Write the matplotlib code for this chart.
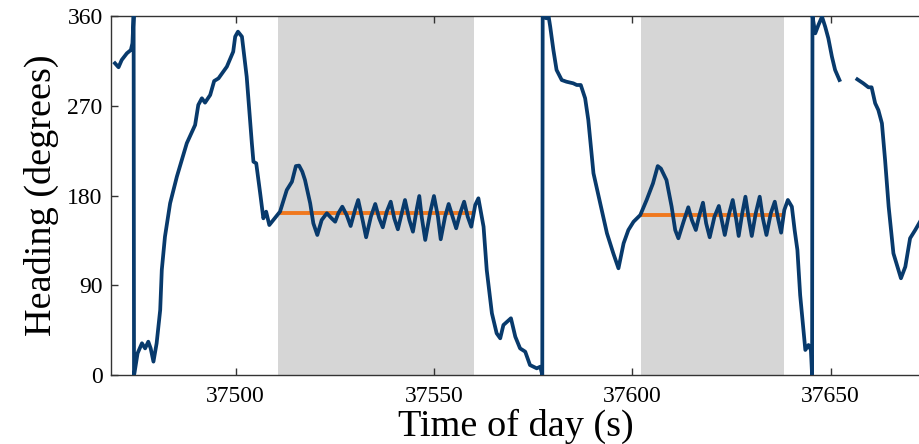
import numpy as np
import matplotlib
matplotlib.use('Agg')
import matplotlib.pyplot as plt

plt.rcParams['font.family'] = ['Liberation Serif', 'DejaVu Serif']

# heading trace (time of day in s, heading in degrees); nan = data gap
time_s = [37469.6, 37470.5, 37471.3, 37472.6, 37473.6, 37474.0, 37474.3, 37474.4,
          37474.5, 37475.3, 37476.4, 37477.2, 37478.0, 37478.6, 37479.3, 37480.1,
          37481.0, 37481.4, 37482.2, 37483.5, 37485.2, 37487.7, 37489.8, 37490.6,
          37491.5, 37492.3, 37493.6, 37494.6, 37495.7, 37497.8, 37499.4, 37499.9,
          37500.6, 37501.6, 37502.8, 37504.1, 37504.5, 37505.2, 37506.2, 37507.0,
          37507.7, 37508.5, 37509.5, 37511.2, 37512.9, 37514.2, 37515.2, 37516.0,
          37516.8, 37517.5, 37518.8, 37519.6, 37520.6, 37521.7, 37523.0, 37524.2,
          37525.1, 37525.9, 37526.9, 37528.0, 37529.0, 37530.1, 37530.9, 37532.1,
          37532.9, 37534.1, 37535.2, 37536.2, 37537.1, 37538.1, 37539.1, 37540.0,
          37540.9, 37541.9, 37542.7, 37543.8, 37544.7, 37545.7, 37546.3, 37546.9,
          37547.8, 37549.0, 37550.0, 37551.0, 37551.7, 37552.8, 37553.7, 37554.7,
          37555.6, 37556.6, 37557.6, 37558.5, 37559.4, 37560.4, 37561.2, 37562.5,
          37563.3, 37564.6, 37565.8, 37566.7, 37567.5, 37569.4, 37570.5, 37571.7,
          37573.0, 37574.2, 37575.9, 37576.8, 37577.3, 37577.4, 37578.3, 37578.9,
          37579.3, 37580.1, 37580.9, 37582.2, 37583.4, 37585.1, 37586.0, 37587.0,
          37588.1, 37588.9, 37590.2, 37591.9, 37593.6, 37595.2, 37596.5, 37597.8,
          37599.0, 37600.3, 37602.0, 37603.6, 37605.2, 37606.4, 37607.2, 37608.6,
          37609.9, 37610.8, 37611.6, 37612.9, 37614.1, 37615.0, 37616.0, 37616.9,
          37617.8, 37618.6, 37619.5, 37620.7, 37621.8, 37622.6, 37623.3, 37624.3,
          37625.3, 37626.2, 37626.8, 37627.7, 37628.5, 37629.4, 37630.1, 37631.1,
          37632.1, 37632.9, 37633.8, 37634.9, 37635.9, 37636.8, 37637.5, 37638.3,
          37639.2, 37640.2, 37640.9, 37641.6, 37642.3, 37642.8, 37643.6, 37644.4,
          37645.0, 37645.3, 37645.4, 37646.1, 37646.9, 37647.8, 37648.6, 37649.4,
          37650.3, 37651.1, 37652.2, 37654.0, 37656.7, 37658.2, 37659.5, 37660.3,
          37661.2, 37662.0, 37662.9, 37663.7, 37664.6, 37665.8, 37667.7, 37668.8,
          37670.0, 37671.3, 37672.5, 37674.0]
heading = [312.6, 308.6, 315.9, 322.6, 325.9, 332.6, 360.0, 0.0,
           1.7, 21.8, 31.8, 26.7, 33.4, 26.7, 13.4, 31.8,
           65.2, 105.3, 138.7, 172.2, 198.9, 232.4, 250.7, 270.8,
           277.5, 273.1, 280.8, 294.8, 297.5, 309.2, 324.2, 339.3,
           344.3, 339.3, 299.1, 232.4, 213.9, 212.3, 182.2, 157.1,
           163.8, 150.4, 155.4, 163.8, 185.5, 193.8, 209.5, 210.0,
           204.0, 195.5, 172.2, 152.1, 140.4, 155.4, 162.2, 157.1,
           153.7, 162.2, 168.8, 160.4, 149.4, 165.5, 175.5, 153.7,
           138.1, 158.8, 171.5, 157.1, 148.1, 163.8, 173.8, 157.1,
           146.1, 162.2, 175.5, 155.4, 143.7, 167.2, 179.5, 158.8,
           135.4, 162.2, 179.5, 158.8, 136.1, 158.8, 171.5, 158.8,
           147.1, 162.2, 173.8, 158.8, 148.7, 170.5, 177.2, 148.7,
           105.3, 61.9, 41.8, 36.8, 50.1, 56.9, 38.4, 26.7,
           23.4, 10.0, 6.7, 8.3, 0.0, 360.0, 357.7, 359.5,
           349.3, 325.9, 305.9, 295.8, 294.1, 292.5, 290.8, 290.8,
           277.5, 255.7, 202.3, 172.2, 142.1, 122.0, 107.0, 132.1,
           145.4, 153.7, 160.4, 175.5, 192.2, 209.5, 207.0, 195.5,
           168.8, 145.4, 137.1, 153.7, 168.2, 155.4, 145.4, 160.4,
           172.8, 152.1, 138.1, 158.8, 169.5, 153.7, 140.4, 160.4,
           175.5, 155.4, 139.4, 162.2, 178.8, 155.4, 139.4, 162.2,
           178.8, 157.1, 140.4, 162.2, 173.8, 155.4, 142.7, 165.5,
           175.5, 168.8, 145.4, 125.4, 80.0, 58.5, 25.1, 30.1,
           25.1, 0.0, 360.0, 342.6, 351.0, 359.3, 349.3, 337.6,
           319.2, 305.9, 295.8, np.nan, 296.5, 292.5, 288.5, 288.5,
           272.5, 265.7, 252.4, 215.6, 168.8, 122.0, 97.0, 108.6,
           137.1, 145.4, 153.7, 160.0]

# shaded intervals and their mean heading
shade_start = [37510.7, 37602.2]
shade_end = [37560.0, 37638.3]
mean_heading = [162.4, 160.4]

x_ticks = [37500, 37550, 37600, 37650]
y_ticks = [0, 90, 180, 270, 360]

fig = plt.figure(figsize=(9.2, 4.44), dpi=100)
ax = fig.add_axes([111 / 920, 69 / 444, 809 / 920, 359 / 444])

for s, e, m in zip(shade_start, shade_end, mean_heading):
    ax.axvspan(s, e, color='#d6d6d6', lw=0, zorder=1)
    ax.plot([s, e], [m, m], color='#f0781e', lw=2.8, zorder=2,
            solid_capstyle='butt')

ax.plot(time_s, heading, color='#083a6c', lw=2.7, zorder=3,
        solid_joinstyle='round')

ax.set_xlim(37468.6, 37672.5)
ax.set_ylim(0, 360)
ax.set_xticks(x_ticks)
ax.set_yticks(y_ticks)
ax.tick_params(direction='in', length=5, width=1, labelsize=17,
               top=True, right=False, colors='#333333', labelcolor='black')
ax.tick_params(axis='x', pad=8)
ax.tick_params(axis='y', pad=6)
for side in ['left', 'bottom', 'top']:
    ax.spines[side].set_color('#333333')
    ax.spines[side].set_linewidth(1)
ax.spines['right'].set_visible(False)

ax.set_xlabel('Time of day (s)', fontsize=27.5, labelpad=1)
ax.set_ylabel('Heading (degrees)', fontsize=27.5, labelpad=6)

fig.savefig('out.png', dpi=100)
